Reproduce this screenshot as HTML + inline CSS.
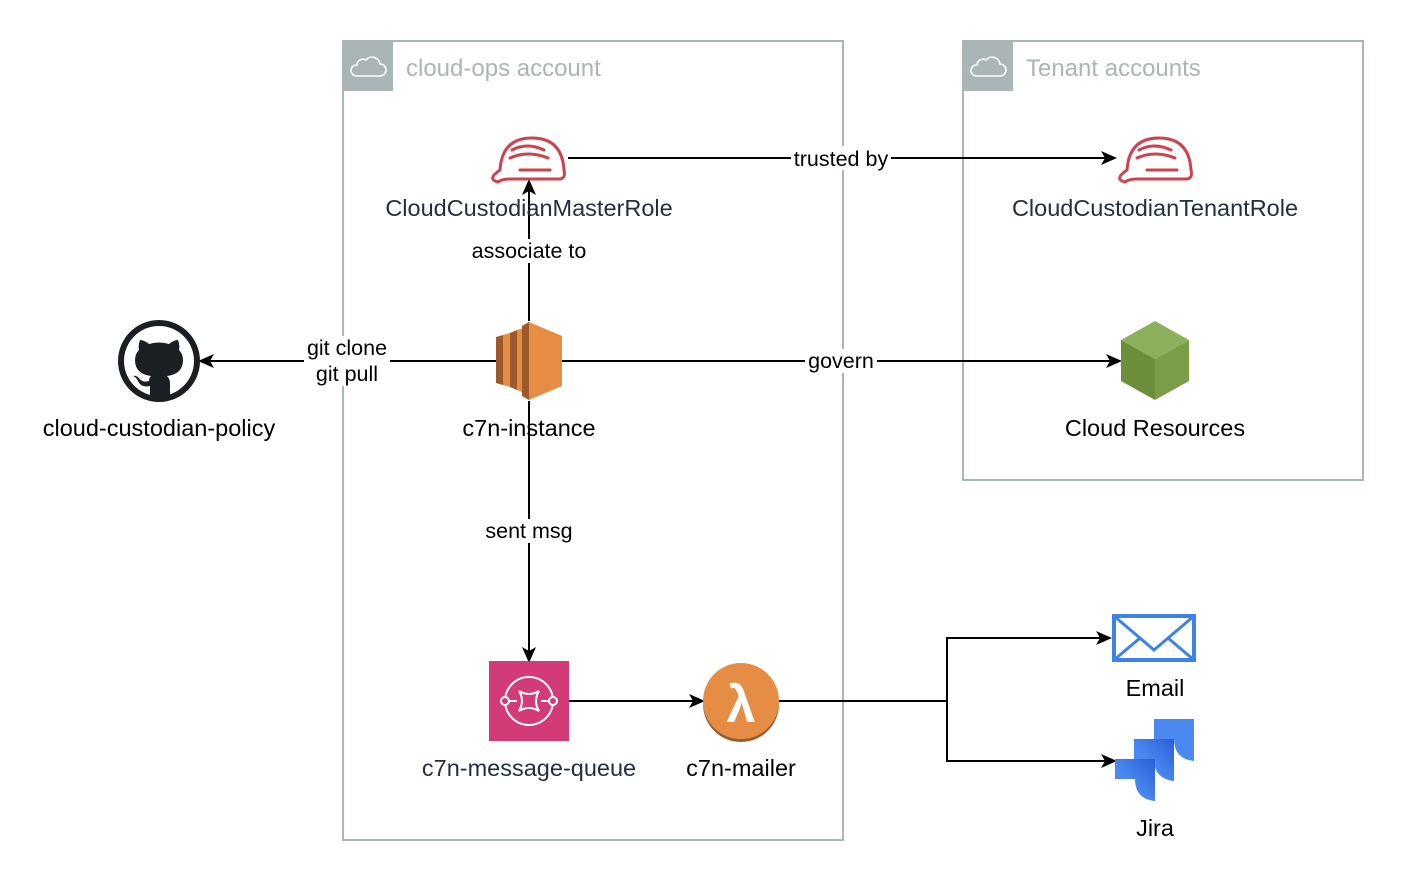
<!DOCTYPE html>
<html><head><meta charset="utf-8"><style>
html,body{margin:0;padding:0;background:#fff;}
svg text{font-family:"Liberation Sans",Helvetica,Arial,sans-serif;}
</style></head><body>
<svg width="1416" height="886" viewBox="0 0 1416 886" xmlns="http://www.w3.org/2000/svg">
<defs>
<marker id="a" markerWidth="16" markerHeight="14" refX="14" refY="7" orient="auto" markerUnits="userSpaceOnUse">
<path d="M0,0 L16,7 L0,14 L4,7 Z" fill="#000"/></marker>
<linearGradient id="jg" x1="1" y1="0" x2="0" y2="1"><stop offset="0" stop-color="#2a5fd6"/><stop offset="0.6" stop-color="#4a8af0"/></linearGradient>
</defs>
<rect x="343" y="41" width="500" height="799" fill="none" stroke="#aab5b5" stroke-width="2"/>
<rect x="343" y="41" width="50" height="50" fill="#aab5b5"/>
<path d="M356,76 h24 a6,6 0 0 0 0,-12 a8,8 0 0 0 -14,-4 a6,6 0 0 0 -9,5 a5.5,5.5 0 0 0 -1,11 z" fill="none" stroke="#fff" stroke-width="1.6"/>
<text x="406" y="76" font-size="24" fill="#aab5b5">cloud-ops account</text>
<rect x="963" y="41" width="400" height="439" fill="none" stroke="#aab5b5" stroke-width="2"/>
<rect x="963" y="41" width="50" height="50" fill="#aab5b5"/>
<path d="M976,76 h24 a6,6 0 0 0 0,-12 a8,8 0 0 0 -14,-4 a6,6 0 0 0 -9,5 a5.5,5.5 0 0 0 -1,11 z" fill="none" stroke="#fff" stroke-width="1.6"/>
<text x="1026" y="76" font-size="24" fill="#aab5b5">Tenant accounts</text>

<g stroke="#000" stroke-width="2" fill="none">
<line x1="568" y1="158" x2="1115" y2="158" marker-end="url(#a)"/>
<line x1="529" y1="321" x2="529" y2="181" marker-end="url(#a)"/>
<line x1="496" y1="361" x2="200" y2="361" marker-end="url(#a)"/>
<line x1="562" y1="361" x2="1120" y2="361" marker-end="url(#a)"/>
<line x1="529" y1="401" x2="529" y2="661" marker-end="url(#a)"/>
<line x1="569" y1="701" x2="703" y2="701" marker-end="url(#a)"/>
<polyline points="779,701 947,701 947,638 1110,638" marker-end="url(#a)"/>
<polyline points="947,701 947,761 1115,761" marker-end="url(#a)"/>
</g>
<g font-size="21.5" fill="#000" text-anchor="middle">
<rect x="791" y="146" width="100" height="24" fill="#fff"/>
<text x="841" y="166">trusted by</text>
<rect x="468" y="239" width="122" height="24" fill="#fff"/>
<text x="529" y="258">associate to</text>
<rect x="304" y="336" width="86" height="50" fill="#fff"/>
<text x="347" y="355">git clone</text>
<text x="347" y="381">git pull</text>
<rect x="805" y="349" width="72" height="24" fill="#fff"/>
<text x="841" y="368">govern</text>
<rect x="481" y="519" width="96" height="24" fill="#fff"/>
<text x="529" y="538">sent msg</text>
</g>

<g id="h" fill="none" stroke="#d0414f" stroke-width="3" stroke-linecap="round" stroke-linejoin="round">
<path d="M500,170 q2,-32 32,-32 q30,0 32,32 q2,8 -4,9 h-50 q-8,0 -12,3 q-8,-2 -4,-7 q3,-3 6,-5 z"/>
<path d="M512,150 q15,-8 32,0 M510,158 q18,-8 38,0 M520,170 h30"/>
</g>
<use href="#h" x="627"/>
<circle cx="159" cy="361" r="41" fill="#1b1f23"/>
<circle cx="159" cy="361" r="35" fill="#fff"/>
<path d="M150,395 v-9 q-9,2 -12,-5 q-2,-4 -5,-5 q3,-1 6,2 q3,5 10,3 q0,-3 2,-5 q-16,-2 -16,-16 q0,-6 4,-10 q-1,-5 1,-10 q4,0 9,4 q10,-3 20,0 q5,-4 9,-4 q2,5 1,10 q4,4 4,10 q0,14 -16,16 q3,3 3,7 v12 q-10,3 -20,0 z" fill="#1b1f23"/>
<g>
<polygon points="496,337 503,335 503,385 496,383" fill="#9c5a2b"/>
<polygon points="503,335 510,333 510,387 503,385" fill="#e58c45"/>
<polygon points="510,333 517,330 517,390 510,387" fill="#9c5a2b"/>
<polygon points="517,330 524,328 524,393 517,390" fill="#e58c45"/>
<polygon points="522,326 529,322 529,400 522,396" fill="#9c5a2b"/>
<polygon points="529,322 562,336 562,386 529,400" fill="#e58c45"/>
</g>
<polygon points="1155,321 1189,340 1155,359 1121,340" fill="#8cb05b"/>
<polygon points="1121,340 1155,359 1155,400 1121,381" fill="#6d8f3b"/>
<polygon points="1155,359 1189,340 1189,381 1155,400" fill="#7b9d48"/>
<rect x="489" y="661" width="80" height="80" fill="#d33a78"/>
<g fill="none" stroke="#fff" stroke-width="2">
<circle cx="529" cy="701" r="24"/>
<circle cx="505" cy="701" r="4" fill="#d33a78"/><circle cx="553" cy="701" r="4" fill="#d33a78"/>
<path d="M519,691 q10,6 20,0 q-6,10 0,20 q-10,-6 -20,0 q6,-10 0,-20 z"/>
<path d="M509,701 h8 M541,701 h8"/>
</g>
<circle cx="741" cy="701" r="38" fill="#e58c45"/>
<path d="M741,739 a38,38 0 0 0 38,-38 v3 a38,38 0 0 1 -76,0 v-3 a38,38 0 0 0 38,38z" fill="#9c5a2b"/>
<text x="741" y="722" font-size="52" fill="#fff" text-anchor="middle" font-weight="bold">λ</text>
<rect x="1114" y="616" width="80" height="44" fill="none" stroke="#3d83e6" stroke-width="4"/>
<path d="M1114,616 L1154,650 L1194,616 M1114,660 L1140,638 M1194,660 L1168,638" fill="none" stroke="#3d83e6" stroke-width="3"/>
<path d="M1154,719 h40 v42 q-20,-2 -20,-22 h-20 z" fill="#4a8af0"/>
<path d="M1134,739 h40 v42 q-20,-2 -20,-22 h-20 z" fill="url(#jg)"/>
<path d="M1115,759 h40 v42 q-20,-2 -20,-22 h-20 z" fill="url(#jg)"/>

<g font-size="23.5" text-anchor="middle">
<text x="529" y="216" fill="#232f3e">CloudCustodianMasterRole</text>
<text x="1155" y="216" fill="#232f3e">CloudCustodianTenantRole</text>
<text x="159" y="436" fill="#000">cloud-custodian-policy</text>
<text x="529" y="436" fill="#000">c7n-instance</text>
<text x="1155" y="436" fill="#000">Cloud Resources</text>
<text x="529" y="776" fill="#232f3e">c7n-message-queue</text>
<text x="741" y="776" fill="#000">c7n-mailer</text>
<text x="1155" y="696" fill="#000">Email</text>
<text x="1155" y="836" fill="#000">Jira</text>
</g>
</svg>
</body></html>
